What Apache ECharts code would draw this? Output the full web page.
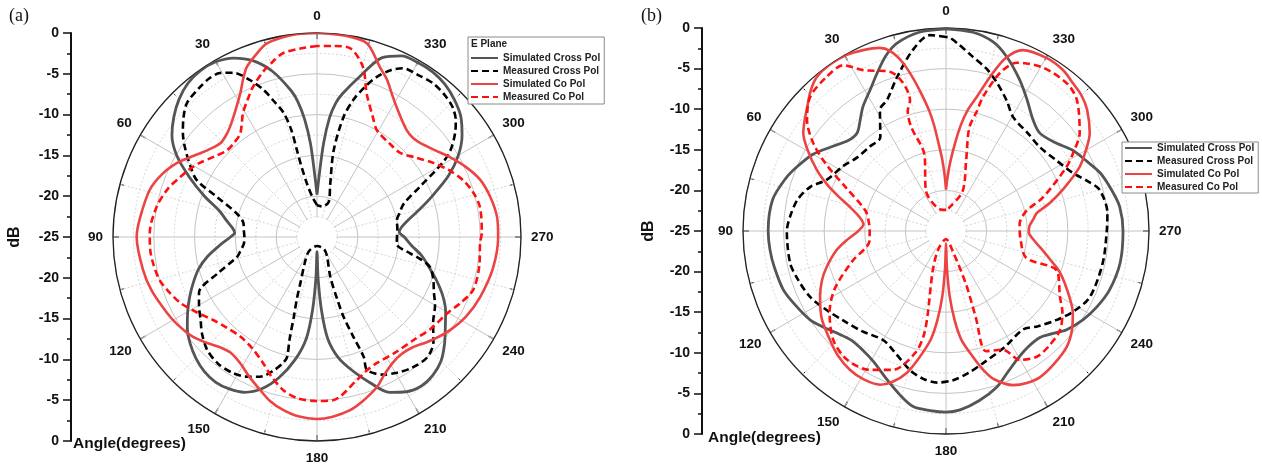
<!DOCTYPE html>
<html>
<head>
<meta charset="utf-8">
<script src="https://cdn.jsdelivr.net/npm/echarts@6.0.0/dist/echarts.min.js"></script>
<style>
html,body{margin:0;padding:0;background:#fff;}
#chart{width:1262px;height:467px;}
</style>
</head>
<body>
<div id="chart"></div>
<script>
// ---------- DATA ----------
const SERIES_NAMES = ['Simulated Cross Pol', 'Measured Cross Pol', 'Simulated Co Pol', 'Measured Co Pol'];
const ANGLE_TICKS = [0, 30, 60, 90, 120, 150, 180, 210, 240, 270, 300, 330];
const DB_TICK_LABELS = ['0', '-5', '-10', '-15', '-20', '-25', '-20', '-15', '-10', '-5', '0']; // top -> bottom

// pairs: [angle (deg), level (dB)] in drawing order
const A_SIM_CROSS = [[0,-19.8],[2,-17.5],[4,-13.5],[6,-10.5],[8,-8.3],[10,-6.8],[15,-4],[20,-2],[25,-0.8],[30,-0.2],[35,-0.1],[40,-0.4],[45,-1.1],[50,-2.1],[55,-3.3],[60,-5.2],[65,-7.8],[70,-10.3],[75,-12.6],[80,-13.8],[84,-14.6],[87,-14.9],[90,-14.4],[95,-13],[100,-11.4],[105,-10],[110,-8.9],[115,-7.8],[120,-6.7],[125,-5.6],[130,-4.7],[135,-4],[140,-3.5],[145,-3.3],[150,-3.5],[155,-4],[160,-5.2],[165,-7.2],[170,-9.8],[174,-12.5],[176.5,-16],[178.5,-20],[180,-23.2],[181.5,-20],[183.5,-16],[186,-12.5],[190,-10],[195,-8],[200,-6],[205,-4],[210,-3.1],[215,-2.7],[220,-2.9],[225,-3.5],[230,-4.6],[235,-5.8],[240,-6.8],[245,-8],[250,-9.4],[255,-10.8],[260,-12],[265,-13.4],[270,-14.3],[273.5,-14.9],[277,-14.5],[280,-13.8],[285,-12],[290,-9.8],[295,-7.2],[300,-5],[305,-3.3],[310,-2],[315,-1.2],[320,-0.6],[325,-0.3],[330,-0.3],[335,-0.5],[340,-1.6],[345,-4.6],[350,-7.2],[352,-8.4],[354,-10.3],[356,-13.5],[358,-17.5],[360,-19.8]];
const A_MEAS_CROSS = [[0,-21.1],[6,-20.2],[10.6,-18.4],[12.5,-16],[13,-14.1],[13.5,-11.5],[15,-9.3],[17.8,-7.4],[20,-5.8],[23.1,-4.1],[27,-2.4],[30.6,-1.65],[34,-1.5],[38,-1.7],[44,-2.1],[48,-3],[52.2,-4.2],[56,-5.5],[61,-7.3],[64.7,-8.7],[68.2,-11.8],[73.8,-14.8],[79,-15.8],[84.8,-16],[90,-16.1],[95.2,-16],[100,-15.5],[104,-14.9],[110.2,-12],[115.3,-9],[120,-8.3],[125.4,-7.5],[130,-6.6],[135.8,-5.7],[142,-5.3],[148.3,-5.4],[153,-5.8],[157.8,-6.5],[162,-7.8],[164.9,-9],[166,-9.8],[165,-12],[163.8,-14.8],[162,-17],[160.3,-18.9],[154.4,-21.6],[150.3,-23],[180,-23.9],[210,-23.3],[207.8,-22.4],[198.4,-19.8],[198,-17],[198.4,-14.7],[200,-12],[201.3,-9.2],[200.6,-7.6],[205.6,-6.3],[210.5,-5.7],[216,-5.2],[222.5,-5],[228,-5.8],[233.5,-7.3],[240,-8.3],[245,-9.2],[249.7,-9.8],[255.2,-10.7],[258.7,-12.5],[260,-13.4],[265,-15.2],[270,-15.2],[276,-15.1],[281.8,-15],[286,-14.5],[291,-13.6],[296,-11],[300.5,-7.2],[303,-5.5],[307,-3.8],[310,-2.8],[313.7,-2],[318,-1.6],[323,-1.4],[328,-1.6],[333,-1.8],[336,-2.6],[339.4,-4],[342,-5.5],[345,-7.5],[347.5,-9.9],[349.1,-14.2],[346,-18.3],[341.5,-20.5],[350.8,-21.2],[360,-21.1]];
const A_SIM_CO = [[0,0],[2.8,0],[8,-0.1],[14.5,-0.5],[18,-1.3],[22.4,-2.45],[25,-3.6],[28,-5],[33,-6.6],[38.3,-7.8],[42,-8.3],[45.9,-8.5],[50,-8.1],[54.3,-7.4],[58,-6.6],[62.1,-5.6],[68,-4.5],[74.3,-3.7],[83.6,-3.2],[90,-2.9],[100.7,-3.3],[108,-3.7],[116.9,-4.4],[122,-4.8],[128.9,-5.5],[134,-6.3],[138.6,-7],[143,-7.3],[148.6,-6.9],[154,-6],[159.6,-5],[164,-4.1],[168.9,-3.4],[174,-2.9],[180,-2.7],[185,-2.9],[190.8,-3.4],[196,-4.2],[201.8,-5.2],[206,-6.2],[211,-7],[216,-7.3],[221,-7.1],[226,-6.4],[230,-5.8],[235,-5.1],[242,-4.3],[249.8,-3.7],[260,-3.1],[270,-2.8],[276.3,-2.8],[283,-3.2],[289.3,-3.8],[295,-4.8],[301,-6],[306,-7],[312.4,-7.9],[316,-8.1],[320,-7.9],[326,-6.9],[331.5,-5.5],[336,-3.9],[339.7,-2.8],[345.5,-0.5],[352,-0.1],[360,0]];
const A_MEAS_CO = [[0,-1.6],[5,-1.8],[10.5,-2.1],[14,-2.8],[18.1,-3.7],[23.1,-5],[27,-6.2],[30.8,-7.3],[36.5,-9.2],[41,-9.6],[46,-9.7],[52,-9],[57.7,-8],[62,-7.3],[66.3,-6.7],[72,-5.8],[79.4,-5],[88.6,-4.5],[94.5,-4.5],[100,-4.7],[105.3,-5],[110,-5.6],[115.7,-6.4],[122,-7.6],[128.6,-8.7],[135,-9.3],[142.4,-9.6],[150,-9.2],[156.8,-8.2],[162,-7],[167.5,-5.8],[173,-5.1],[180,-4.9],[185.6,-4.9],[195.6,-6.8],[200,-7.5],[205.5,-7.9],[214,-7.9],[223,-7.7],[231,-7.1],[239.7,-6.5],[245,-5.7],[251.2,-4.8],[260,-4.8],[268,-5],[271.4,-4.8],[280.4,-4.7],[286,-5.1],[291.3,-5.8],[297,-6.9],[302.5,-8.1],[309,-9.5],[315.3,-10.5],[322,-10.5],[330.7,-10],[335,-8.8],[340.9,-6.4],[344.9,-3.4],[350.1,-1.5],[355,-1.5],[360,-1.6]];

const B_SIM_CROSS = [[0,-0.1],[7.7,-0.3],[14.6,-1.1],[19,-2.2],[23.6,-3.8],[28,-5.2],[33.8,-6.6],[38,-7.8],[42.2,-8.7],[47,-8.6],[54.1,-7.4],[60,-6.1],[66.8,-5],[72,-4.2],[79.8,-3.3],[90,-3.1],[96.2,-3.2],[102,-3.4],[109.9,-3.7],[116,-4.3],[123.2,-5],[128,-5.8],[133.1,-6.6],[139,-7.2],[145.1,-7.1],[151,-6.6],[158.4,-5.3],[164,-4.1],[169.4,-3],[175,-2.8],[180,-2.7],[184.5,-2.9],[191,-3.7],[198.1,-4.8],[203,-5.9],[208.8,-6.9],[215,-7.5],[221.6,-7.5],[226,-6.8],[230.7,-5.8],[237,-4.9],[243.3,-4.2],[250,-3.6],[259.6,-3.2],[270,-3.2],[277.9,-3.4],[284,-4],[290.6,-4.7],[296,-5.6],[302.5,-6.5],[309,-7.7],[316.2,-8.3],[322,-7.6],[328.3,-6],[334,-4.3],[340.7,-2.3],[346,-1],[352.3,-0.3],[360,-0.1]];
const B_MEAS_CROSS = [[0,-1.1],[4.7,-0.8],[10.3,-2.3],[17.6,-5.1],[24.2,-7.3],[28.6,-8],[35,-10.9],[42,-11],[50.3,-10.8],[58,-10],[66.8,-9],[72.1,-7.4],[78.2,-6.3],[84.9,-5.7],[90,-5.4],[101.6,-5.4],[108,-5.8],[115.9,-6.4],[123,-7.3],[130.8,-8.2],[140,-8.9],[150,-9.5],[157,-8.8],[165.5,-7.3],[171,-6.6],[176.6,-6.3],[182.7,-6.6],[189,-7.3],[195.7,-8.1],[207,-9],[217.9,-9.6],[224,-8.7],[231.3,-7.5],[238,-6.4],[245.4,-5.5],[258.5,-5.3],[270,-5.2],[276.4,-5],[284.9,-5.4],[289,-6.4],[294.5,-7.8],[302,-8.8],[311.8,-9.5],[320,-9.3],[329.6,-8.7],[335,-7.3],[341,-5.7],[346,-4.4],[351.2,-3.3],[356,-2],[358.8,-1.2],[360,-1.1]];
const B_SIM_CO = [[0,-19.9],[1.5,-18],[3,-16.2],[5,-14],[6.5,-11.8],[8,-10],[10,-8],[12.1,-5.8],[14.5,-3.5],[17.2,-1.8],[20,-1],[24.6,-0.5],[29.4,-0.1],[35,0],[40,-0.25],[44,-1],[48.3,-2.1],[52,-2.9],[55.6,-3.7],[60,-5.4],[64.7,-7.4],[68.7,-9.3],[72,-11],[76,-12.8],[80.8,-14.2],[85.4,-14.8],[90,-14.2],[95,-12.8],[100,-11.3],[107,-9.6],[112,-8.5],[117.6,-7.5],[125,-6.3],[133.2,-5.4],[139,-4.7],[145.4,-4.2],[151,-4.1],[156.8,-4.4],[160.5,-5.3],[164.6,-6.9],[168,-9],[172,-11.5],[174.5,-14],[176.8,-17],[178.6,-20.5],[180,-23.5],[181.4,-20.5],[183.2,-17],[185.5,-14],[188,-11.5],[192,-9.2],[195,-7.3],[198,-5.8],[203.5,-4.3],[208,-3.8],[212.8,-3.6],[219,-3.9],[226.2,-4.4],[232,-5.3],[237.1,-6.4],[242,-7.8],[249.8,-10],[255,-11.8],[260,-13.2],[265,-14.3],[269,-14.8],[273.4,-14.7],[278,-14.1],[281.2,-13.6],[285,-11.8],[289.8,-9.6],[295.5,-6.8],[300,-5.1],[304.2,-3.6],[310.6,-2.1],[315,-1.4],[319.4,-1],[324,-0.5],[329.7,-0.35],[337,-0.8],[341,-2.5],[344.1,-5.3],[347,-8],[350,-10],[352,-11.8],[354,-14],[356.5,-16.5],[358.5,-18.5],[360,-19.9]];
const B_MEAS_CO = [[0,-22.4],[13,-22.3],[26.6,-19.5],[15.8,-15.2],[18.5,-11.5],[17.7,-9.5],[15.4,-8.3],[16.2,-6],[19.4,-4.2],[27.3,-2.7],[31.7,-1],[38,-1],[45.4,-1.5],[51.4,-3.1],[56.5,-5.4],[60.9,-8.1],[66.6,-11.6],[76,-14.8],[85,-15.5],[90,-15.6],[97.4,-15.5],[107.8,-12.9],[117.3,-9.6],[125,-7.5],[134,-5.7],[142.5,-5],[151.3,-5.5],[159.1,-6.7],[166,-9.6],[168,-12],[167.5,-14.7],[161.6,-19.8],[157,-22.5],[180,-24],[198.5,-22.4],[200.6,-18],[199,-13.7],[198.4,-9.4],[205.6,-8.8],[209.8,-6.7],[215.8,-5.9],[222,-6],[229,-6.4],[235,-7.5],[240,-8.8],[250.3,-10.5],[251.5,-14.6],[264.6,-15.8],[275.2,-15.9],[284,-14.8],[289,-12.4],[297.8,-8.3],[301.6,-6.6],[306.2,-4.6],[315,-2.2],[320.7,-1.5],[329.4,-1.6],[337.1,-2.5],[341.1,-4.4],[344.6,-7.9],[345.5,-9.7],[347.3,-12],[344,-16],[337.3,-19.7],[352,-22.1],[360,-22.4]];

// ---------- CHART ----------
const FONT = "'Liberation Sans', Arial, sans-serif";
const chart = echarts.init(document.getElementById('chart'), null, {renderer: 'canvas'});

const STYLES = [
  {color: '#555555', width: 2.8, type: 'solid'},
  {color: '#000000', width: 2.6, type: [7, 4]},
  {color: '#ec4444', width: 2.6, type: 'solid'},
  {color: '#ff1010', width: 2.6, type: [7, 4]}
];

function mkSeries(idx, pts, polarIndex) {
  const st = STYLES[idx];
  return {
    name: SERIES_NAMES[idx],
    type: 'line',
    coordinateSystem: 'polar',
    polarIndex: polarIndex,
    data: pts.map(p => [p[1], p[0]]),
    showSymbol: false,
    symbol: 'none',
    smooth: 0.3,
    lineStyle: {color: st.color, width: st.width, type: st.type},
    itemStyle: {color: st.color},
    z: 3
  };
}

function angleAxis(polarIndex) {
  return {
    polarIndex: polarIndex,
    type: 'value', min: 0, max: 360, interval: 30,
    startAngle: 90, clockwise: false,
    axisLine: {show: true, lineStyle: {color: '#222', width: 1.3}},
    axisTick: {show: true, inside: true, length: 6, lineStyle: {color: '#222', width: 1.3}},
    minorTick: {show: true, splitNumber: 2, length: 4, lineStyle: {color: '#222', width: 1}},
    axisLabel: {
      margin: 10, color: '#111', fontFamily: FONT, fontWeight: 'bold', fontSize: 13.5,
      formatter: v => (ANGLE_TICKS.indexOf(v) >= 0 ? String(v) : '')
    },
    splitLine: {show: true, lineStyle: {color: '#c4c4c4', width: 1}},
    minorSplitLine: {show: true, lineStyle: {color: '#d6d6d6', width: 1, type: [2, 2]}}
  };
}

function radiusAxis(polarIndex) {
  return {
    polarIndex: polarIndex,
    type: 'value', min: -25, max: 0, interval: 5,
    axisLine: {show: false}, axisTick: {show: false}, axisLabel: {show: false},
    minorTick: {show: false, splitNumber: 2},
    splitLine: {show: true, lineStyle: {color: '#c4c4c4', width: 1}},
    minorSplitLine: {show: true, lineStyle: {color: '#d6d6d6', width: 1, type: [2, 2]}}
  };
}

function dbAxis(gridIndex, nameGap) {
  return {
    gridIndex: gridIndex,
    type: 'value', min: 0, max: 50, interval: 5,
    position: 'left',
    axisLine: {show: true, onZero: false, lineStyle: {color: '#111', width: 2}},
    axisTick: {show: true, length: 8, lineStyle: {color: '#111', width: 1.5}},
    minorTick: {show: true, splitNumber: 2, length: 4, lineStyle: {color: '#111', width: 1.5}},
    splitLine: {show: false},
    axisLabel: {
      margin: 12, color: '#111', fontFamily: FONT, fontWeight: 'bold', fontSize: 14,
      formatter: v => DB_TICK_LABELS[10 - Math.round(v / 5)]
    },
    name: 'dB', nameLocation: 'middle', nameRotate: 90, nameGap: nameGap,
    nameTextStyle: {color: '#111', fontFamily: FONT, fontWeight: 'bold', fontSize: 16}
  };
}

const legendBase = {
  orient: 'vertical',
  data: SERIES_NAMES,
  selectedMode: false,
  itemWidth: 27, itemHeight: 11, itemGap: 3, itemTextGap: 2,
  itemStyle: {opacity: 0},
  backgroundColor: '#fff',
  borderColor: '#8a8a8a', borderWidth: 1,
  textStyle: {color: '#222', fontFamily: FONT, fontWeight: 'bold', fontSize: 10},
  z: 10
};

const option = {
  animation: false,
  backgroundColor: '#fff',
  polar: [
    {center: [317, 237], radius: 204},
    {center: [946, 231], radius: 203}
  ],
  angleAxis: [angleAxis(0), angleAxis(1)],
  radiusAxis: [radiusAxis(0), radiusAxis(1)],
  grid: [
    {left: 71, top: 33, width: 1, height: 408},
    {left: 702, top: 28, width: 1, height: 406}
  ],
  xAxis: [
    {gridIndex: 0, type: 'value', min: 0, max: 1, show: false},
    {gridIndex: 1, type: 'value', min: 0, max: 1, show: false}
  ],
  yAxis: [dbAxis(0, 48), dbAxis(1, 45)],
  legend: [
    Object.assign({}, legendBase, {left: 468, top: 37, padding: [16, 4, 2, 2]}),
    Object.assign({}, legendBase, {left: 1122, top: 142, padding: [1, 4, 1, 2]})
  ],
  graphic: [
    {type: 'circle', shape: {cx: 317, cy: 237, r: 19.5}, style: {fill: '#fff'}, z: 1},
    {type: 'circle', shape: {cx: 946, cy: 231, r: 19.5}, style: {fill: '#fff'}, z: 1},
    {type: 'text', left: 9, top: 7, z: 20, style: {text: '(a)', font: "18px 'Liberation Serif', 'Times New Roman', serif", fill: '#111'}},
    {type: 'text', left: 641, top: 7, z: 20, style: {text: '(b)', font: "18px 'Liberation Serif', 'Times New Roman', serif", fill: '#111'}},
    {type: 'text', left: 73, top: 436, z: 20, style: {text: 'Angle(degrees)', font: "bold 15.5px 'Liberation Sans', Arial, sans-serif", fill: '#111'}},
    {type: 'text', left: 708, top: 430, z: 20, style: {text: 'Angle(degrees)', font: "bold 15.5px 'Liberation Sans', Arial, sans-serif", fill: '#111'}},
    {type: 'text', left: 471, top: 39, z: 20, style: {text: 'E Plane', font: "bold 10px 'Liberation Sans', Arial, sans-serif", fill: '#222'}}
  ],
  series: [
    mkSeries(0, A_SIM_CROSS, 0),
    mkSeries(1, A_MEAS_CROSS, 0),
    mkSeries(2, A_SIM_CO, 0),
    mkSeries(3, A_MEAS_CO, 0),
    mkSeries(0, B_SIM_CROSS, 1),
    mkSeries(1, B_MEAS_CROSS, 1),
    mkSeries(2, B_SIM_CO, 1),
    mkSeries(3, B_MEAS_CO, 1)
  ]
};
chart.setOption(option);
</script>
</body>
</html>
